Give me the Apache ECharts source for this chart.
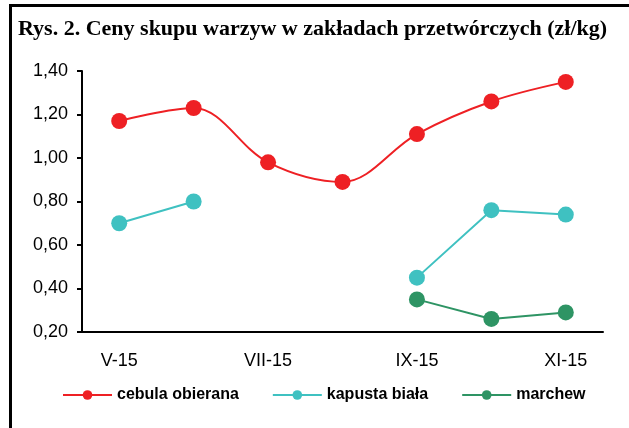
<!DOCTYPE html>
<html>
<head>
<meta charset="utf-8">
<script src="https://cdn.jsdelivr.net/npm/echarts@6/dist/echarts.min.js"></script>
<style>
  html, body { margin: 0; padding: 0; background: #fff; }
  .wrap { position: relative; width: 629px; height: 428px; overflow: hidden; }
  .frame { position: absolute; left: 9px; top: 4px; width: 700px; height: 500px;
           border-top: 3px solid #000; border-left: 3px solid #000; }
  #chart { position: absolute; left: 0; top: 0; width: 629px; height: 428px; }
</style>
</head>
<body>
<div class="wrap">
  <div class="frame"></div>
  <div id="chart"></div>
</div>
<script>
// miesiące 2015
const months = ['V-15', 'VI-15', 'VII-15', 'VIII-15', 'IX-15', 'X-15', 'XI-15']
// ceny w zł/kg
const cebula = [1.17, 1.23, 0.98, 0.89, 1.11, 1.26, 1.35]
const kapusta = [0.70, 0.80, null, null, 0.45, 0.76, 0.74]
const marchew = [null, null, null, null, 0.35, 0.26, 0.29]

const colors = ['#ee2024', '#3fc1c1', '#2e9464']

let myChart = echarts.init(document.getElementById('chart'))

const option = {
  animation: false,
  color: colors,
  title: {
    text: 'Rys. 2. Ceny skupu warzyw w zakładach przetwórczych (zł/kg)',
    left: 13,
    top: 13,
    textStyle: {
      fontFamily: 'Liberation Serif',
      fontWeight: 'bold',
      fontSize: 22,
      color: '#000'
    }
  },
  legend: {
    top: 382,
    left: 57,
    itemWidth: 49,
    itemHeight: 12,
    itemGap: 33,
    textStyle: {
      fontFamily: 'Liberation Sans',
      fontWeight: 'bold',
      fontSize: 16,
      color: '#000'
    },
    data: ['cebula obierana', 'kapusta biała', 'marchew']
  },
  grid: {
    left: 82,
    right: 26,
    top: 71,
    bottom: 96
  },
  xAxis: {
    type: 'category',
    data: months,
    boundaryGap: true,
    axisLine: { lineStyle: { color: '#000', width: 2 } },
    axisTick: { interval: 1, length: 5, lineStyle: { color: '#000', width: 2 } },
    axisLabel: {
      interval: 1,
      margin: 20,
      fontFamily: 'Liberation Sans',
      fontSize: 18,
      color: '#000'
    }
  },
  yAxis: {
    type: 'value',
    min: 0.2,
    max: 1.4,
    interval: 0.2,
    splitLine: { show: false },
    axisLine: { show: true, lineStyle: { color: '#000', width: 2 } },
    axisTick: { show: true, length: 5, lineStyle: { color: '#000', width: 2 } },
    axisLabel: {
      margin: 14,
      fontFamily: 'Liberation Sans',
      fontSize: 18,
      color: '#000',
      formatter: v => v.toFixed(2).replace('.', ',')
    }
  },
  series: [
    {
      name: 'cebula obierana',
      type: 'line',
      smooth: 0.35,
      data: cebula,
      symbol: 'circle',
      symbolSize: 16,
      lineStyle: { width: 2 }
    },
    {
      name: 'kapusta biała',
      type: 'line',
      data: kapusta,
      symbol: 'circle',
      symbolSize: 16,
      lineStyle: { width: 2 }
    },
    {
      name: 'marchew',
      type: 'line',
      data: marchew,
      symbol: 'circle',
      symbolSize: 16,
      lineStyle: { width: 2 }
    }
  ]
}

myChart.setOption(option)
</script>
</body>
</html>
